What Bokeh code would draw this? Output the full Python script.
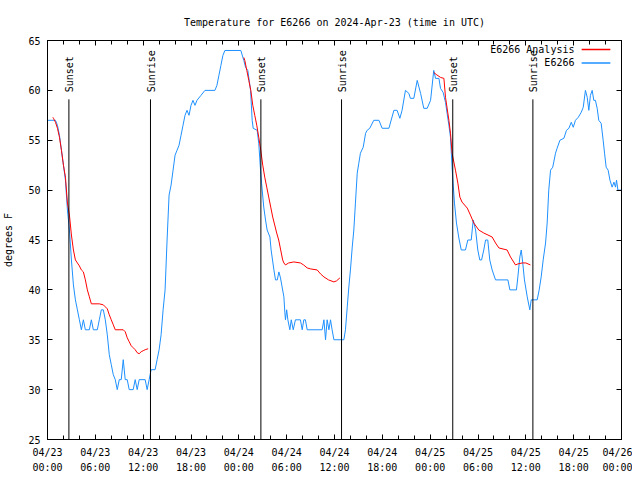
import math
import pandas as pd
from bokeh.plotting import figure
from bokeh.models import (FixedTicker, DatetimeTickFormatter, DatetimeAxis,
                          LinearAxis, Range1d)
from bokeh.embed import file_html
from bokeh.resources import INLINE
from bokeh.core.properties import value

# ---------------- data ----------------
start_time = "2024-04-23 00:00"
end_time = "2024-04-26 00:00"

# observation series "E6266": offsets in 15-minute steps from start, temperature in F
obs_q = [0, 4, 5, 6, 7, 8, 9, 10, 11, 12, 13, 14, 15, 16, 17, 18, 19, 21, 22, 23, 25, 26, 27, 28,
         29, 30, 31, 32, 33, 34, 35, 36, 37, 38, 39, 40, 41, 43, 44, 45, 46, 49, 50, 51, 52, 54,
         55, 56, 57, 58, 59, 60, 61, 62, 63, 64, 65, 66, 67, 68, 69, 70, 71, 72, 73, 74, 75, 77,
         79, 84, 85, 86, 87, 88, 89, 97,
         98.5, 99.4, 100.5, 101.9, 102.7, 103.2, 105.2, 106, 106.9, 107.4, 108.5, 109.4, 110.2,
         111.6, 112.2, 113.6, 114.4, 115.3, 116.1, 116.9, 117.7, 118.6, 119.1, 119.4, 120, 120.6,
         121.6, 122.3, 123.3, 124.4, 126.9, 127.8, 128.6, 129.4, 130.3, 137.8, 138.7, 139.5,
         140.3, 141.2, 142, 142.8, 143.7, 148.7, 149.5, 150.4, 151.2, 152, 152.9, 153.7, 154.5,
         155.4, 156.2, 157, 158.4, 159.6, 160.4, 161.7, 163.7, 166.3, 167.9, 171.3, 173.8, 175.4,
         176.8, 177.9, 179.6, 181.3, 182.1, 183.8, 185.5, 187.2, 188.8, 190.5, 192.2, 193.8,
         194.7, 196.4, 197.2, 198.5, 199.7, 200.5, 201.4, 202.2, 203, 203.5, 204.2, 205.2, 206.4,
         207.6, 209.7, 210.9, 212.6, 213.6, 214.8, 215.9, 216.9, 217.8, 218.9, 219.8, 220.9,
         221.9, 223.1, 224.8, 231, 232, 235.3, 236, 237, 237.7, 238.3, 239.3, 240.7, 242, 242.7,
         245.7, 246.7, 247.7, 248.7, 249.9, 250.7, 251.5, 252.4, 253.5, 254.9, 255.7, 257.1,
         259.1, 260.4, 261.6, 262.8, 263.8, 264.9, 266.3, 267.8, 268.8, 269.9, 270.8, 271.6,
         272.4, 273.3, 274.1, 274.9, 275.8, 276.6, 277.8, 278.8, 279.5, 280.3, 281.3, 282.2,
         283.3, 284.2, 285, 285.5, 286.2, 287.8]
obs_temp = [57, 57, 56.5, 55.5, 54, 52.5, 51, 48, 46, 43, 40.5, 39, 38, 37, 36, 37, 36, 36, 37, 36,
            36, 37, 38, 38, 37, 35.5, 33.5, 32.5, 31.5, 31, 30, 31, 31, 33, 31, 31, 30, 30, 31, 30,
            31, 31, 30, 31, 32, 32, 33, 34, 35.5, 38, 40, 45, 49.5, 50.5, 52, 53.5, 54, 54.5, 55.5,
            56.5, 57.5, 58, 57.5, 58.5, 59, 58.5, 59, 59.5, 60, 60, 60.5, 61.5, 62.5, 63.5, 64, 64,
            63, 62.3, 62, 60, 57, 56.2, 56, 54.7, 52, 50.7, 48.3, 47, 46,
            45.3, 44, 42, 41, 41, 41.8, 41.2, 40.3, 39.3, 37.7, 37, 38, 37,
            36, 37, 36, 37, 37, 36, 37, 37, 36, 36, 37, 35,
            37, 36, 37, 36, 35, 35, 36, 38.3, 40.3, 42, 44.3, 46, 48.7,
            51.7, 52.7, 53.7, 54.3, 55.7, 56, 56.2, 57, 57, 56.2, 56.2, 58, 58,
            57.2, 58, 60, 59.7, 59.2, 59.2, 61, 59.7, 58.2, 58.2, 59, 62,
            61.2, 61.2, 60.2, 59.8, 58.8, 57.7, 56.5, 55.3, 52.3, 50.7, 48.7, 46.7, 45.2,
            44, 44, 45, 45, 47, 46, 44, 43, 43, 44, 45, 45,
            43, 42, 41, 41, 40, 40, 41.3, 43.3, 44, 43, 41, 39.3, 38, 39,
            39, 40, 41.3, 43, 44.7, 46.7, 50, 52, 52.3, 53.7, 54.2, 55,
            55.2, 56, 56.2, 56.8, 56.3, 57, 57.3, 57.8, 58.3, 60, 59.3, 58,
            59.5, 60, 59, 59, 58.2, 57, 56.7, 55, 53.7, 52.3, 52, 51,
            50.3, 50.8, 50.3, 51, 50, 50]

# analysis series "E6266 Analysis" (three night-time segments)
ana1_q = [2.7, 3, 4, 5, 6, 7, 8, 9, 10, 11, 12, 13, 14, 15, 16, 17, 18, 19, 20, 21, 22, 26, 28,
          29, 30, 31, 32, 33, 34, 38, 39, 40, 41, 42, 43, 44, 45, 46, 47, 48, 49, 50.5]
ana1_temp = [57.3, 57.2, 56.8, 56.2, 55.3, 54, 52.5, 51.3, 48.7, 47.5, 45.5, 44, 43, 42.7, 42.4,
             42, 41.8, 41, 40, 39.3, 38.6, 38.6, 38.5, 38.3, 38.1, 37.5, 37, 36.5, 36, 36, 35.8,
             35.2, 34.8, 34.4, 34.2, 34, 33.7, 33.6, 33.8, 33.9, 34, 34.1]
ana2_q = [98.5, 99, 100, 101, 102, 103, 104, 105, 106, 107, 108, 109, 110, 111, 112, 113, 114,
          115, 116, 117, 118, 118.6, 119.4, 121, 123.6, 126.9, 128.5, 130.3, 132, 135.3, 137,
          138.7, 141, 143.7, 145, 146.7]
ana2_temp = [63.3, 63, 62, 61, 60, 58.5, 57.5, 56.5, 55.3, 54, 52.5, 51.3, 50.3, 49.3, 48.3,
             47.3, 46.5, 45.7, 45, 44, 43, 42.7, 42.5, 42.7, 42.8, 42.7, 42.5, 42.2, 42.1, 42,
             41.6, 41.3, 41, 40.8, 40.9, 41.2]
ana3_q = [193.8, 195, 197.2, 198.9, 199.7, 201.4, 202.2, 203, 204.7, 205.9, 206.9, 208, 210.6,
          212.2, 213.9, 216.4, 218.9, 223.1, 224.8, 226.5, 230.6, 232.3, 234.8, 236, 238.2,
          240, 242.3]
ana3_temp = [61.8, 61.6, 61.3, 61.2, 59.3, 57, 55.7, 53.7, 52, 50.7, 49.3, 48.8, 48.2, 47.5,
             46.7, 46, 45.7, 45.3, 44.7, 44.2, 44, 43.3, 42.5, 42.6, 42.7, 42.7, 42.5]

event_times = ["2024-04-23 02:41", "2024-04-23 12:55", "2024-04-24 02:46",
               "2024-04-24 12:53", "2024-04-25 02:50", "2024-04-25 12:53"]
event_names = ["Sunset", "Sunrise", "Sunset", "Sunrise", "Sunset", "Sunrise"]

y_ticks = [25, 30, 35, 40, 45, 50, 55, 60, 65]
title_text = "Temperature for E6266 on 2024-Apr-23 (time in UTC)"
y_label = "degrees F"
legend_labels = ["E6266 Analysis", "E6266"]

# ---------------- styling ----------------
FONT = "DejaVu Sans Mono"
FS = "10px"
RED = "#ff0000"
BLUE = "#1e90ff"

t0 = pd.Timestamp(start_time)
t1 = pd.Timestamp(end_time)
step = pd.Timedelta(minutes=15)


def to_times(q):
    return [t0 + step * v for v in q]


p = figure(width=632, height=476, x_axis_type="datetime",
           x_range=Range1d(t0, t1), y_range=Range1d(25, 65),
           output_backend="svg", toolbar_location=None,
           min_border_left=47, min_border_right=11, min_border_top=40, min_border_bottom=36)
p.grid.visible = False
p.outline_line_color = "black"
p.outline_line_width = 1
p.background_fill_color = "white"
p.border_fill_color = "white"

p.title.text = title_text
p.title.align = "center"
p.title.text_font = FONT
p.title.text_font_size = FS
p.title.text_font_style = "normal"
p.title.text_color = "black"
p.title.standoff = 25

ms = lambda ts: ts.value // 10**6
major = [ms(t0 + pd.Timedelta(hours=6 * k)) for k in range(13)]
minor = [ms(t0 + pd.Timedelta(hours=2 * k)) for k in range(37)]
xticker = FixedTicker(ticks=major, minor_ticks=minor)
fmt = "%m/%d\n%H:%M"
xfmt = DatetimeTickFormatter(microseconds=fmt, milliseconds=fmt, seconds=fmt, minsec=fmt,
                             minutes=fmt, hourmin=fmt, hours=fmt, days=fmt, months=fmt, years=fmt)
yticker = FixedTicker(ticks=y_ticks)


def style_axis(ax):
    ax.axis_line_color = "black"
    ax.major_tick_in = 5
    ax.major_tick_out = 0
    ax.minor_tick_in = 4
    ax.minor_tick_out = 0
    ax.major_tick_line_color = "black"
    ax.minor_tick_line_color = "black"
    ax.major_label_text_font = FONT
    ax.major_label_text_font_size = FS
    ax.major_label_text_color = "black"


xa = p.xaxis[0]
xa.ticker = xticker
xa.formatter = xfmt
style_axis(xa)
xa.major_label_standoff = 7
xa.major_label_text_line_height = 1.45

ya = p.yaxis[0]
ya.ticker = yticker
style_axis(ya)
ya.minor_tick_line_color = None
ya.major_label_standoff = 7
ya.axis_label = y_label
ya.axis_label_text_font = FONT
ya.axis_label_text_font_size = FS
ya.axis_label_text_font_style = "normal"
ya.axis_label_text_color = "black"
ya.axis_label_standoff = 11

# mirrored tick marks on the top and right edges (no labels)
top = DatetimeAxis(ticker=xticker, formatter=xfmt)
style_axis(top)
top.major_label_text_color = None
top.major_label_standoff = 0
p.add_layout(top, "above")

right = LinearAxis(ticker=yticker)
style_axis(right)
right.minor_tick_line_color = None
right.major_label_text_color = None
right.major_label_standoff = 0
p.add_layout(right, "right")

# data lines
p.line(to_times(obs_q), obs_temp, line_color=BLUE, line_width=1)
for q, t in ((ana1_q, ana1_temp), (ana2_q, ana2_temp), (ana3_q, ana3_temp)):
    p.line(to_times(q), t, line_color=RED, line_width=1)

# sunrise / sunset markers
ev = [pd.Timestamp(s) for s in event_times]
p.segment(x0=ev, y0=[25] * len(ev), x1=ev, y1=[59.1] * len(ev), line_color="black", line_width=1)
p.text(x=ev, y=[59.8] * len(ev), text=event_names, angle=math.pi / 2,
       text_align="left", text_baseline="middle", x_offset=1,
       text_font=value(FONT), text_font_size=value(FS), text_color="black")

# legend (text on the left, line sample on the right)
leg_x_text = t0 + pd.Timedelta(hours=66.1)
leg_x0 = t0 + pd.Timedelta(hours=67.0)
leg_x1 = t0 + pd.Timedelta(hours=70.6)
leg_y = [64.1, 62.75]
p.text(x=[leg_x_text] * 2, y=leg_y, text=legend_labels, text_align="right",
       text_baseline="middle", text_font=value(FONT), text_font_size=value(FS),
       text_color="black")
p.segment(x0=[leg_x0] * 2, y0=leg_y, x1=[leg_x1] * 2, y1=leg_y,
          line_color=[RED, BLUE], line_width=1.5)

open("out.html", "w").write(file_html(p, INLINE))
